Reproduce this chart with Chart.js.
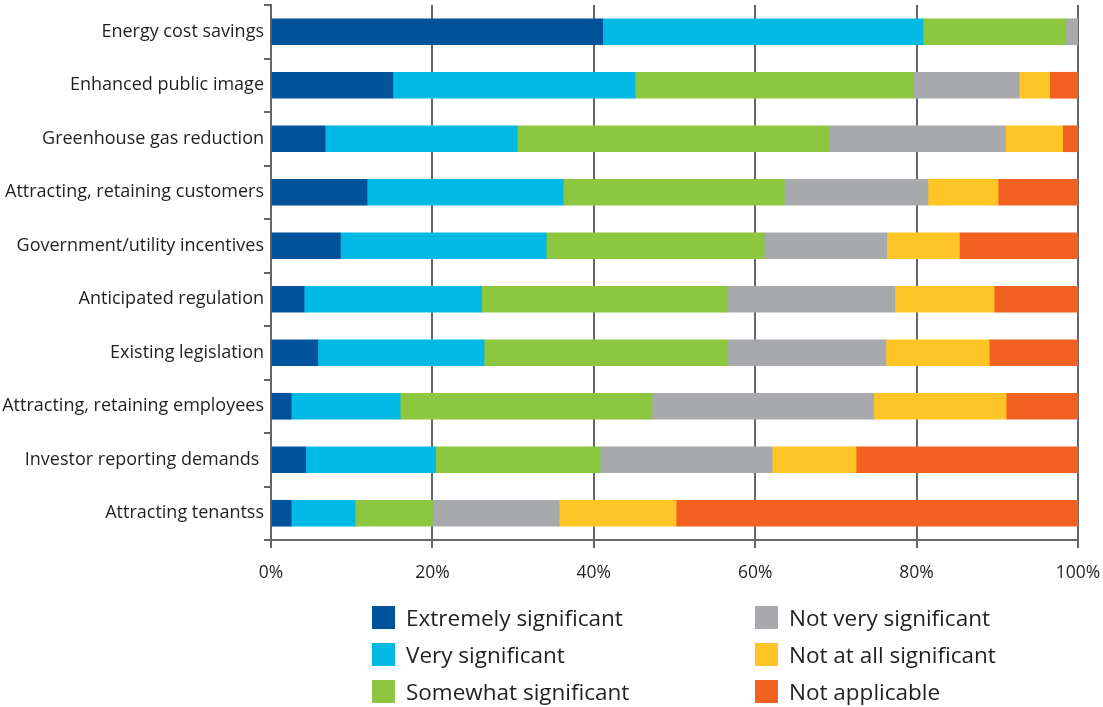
<!DOCTYPE html>
<html>
<head>
<meta charset="utf-8">
<script src="https://cdn.jsdelivr.net/npm/chart.js@4/dist/chart.umd.min.js"></script>
<style>
  body { margin: 0; background: #fff; font-family: "Open Sans", sans-serif; overflow: hidden; }
  #wrap { position: relative; width: 1103px; height: 707px; }
  #chartBox { position: absolute; left: 0; top: 0; width: 1103px; height: 600px; }
  .legend { position: absolute; color: #231f20; font-size: 22.5px; }
  .legend div { display: flex; align-items: center; height: 37px; }
  .legend span.sw { display: inline-block; width: 23px; height: 23px; margin-right: 11px; }
</style>
</head>
<body>
<div id="wrap">
  <div id="chartBox"><canvas id="myChart"></canvas></div>
  <div class="legend" id="legCol1" style="left:372px; top:599px;"></div>
  <div class="legend" id="legCol2" style="left:755px; top:599px;"></div>
</div>
<script>
// categorias (de arriba hacia abajo)
const categories = [
  "Energy cost savings",
  "Enhanced public image",
  "Greenhouse gas reduction",
  "Attracting, retaining customers",
  "Government/utility incentives",
  "Anticipated regulation",
  "Existing legislation",
  "Attracting, retaining employees",
  "Investor reporting demands ",
  "Attracting tenantss"
];

// series en porcentaje
const extremely = [41.1, 15.1, 6.7, 11.9, 8.6, 4.1, 5.8, 2.5, 4.3, 2.5];
const very      = [39.7, 30.0, 23.8, 24.3, 25.5, 22.0, 20.6, 13.5, 16.1, 7.9];
const somewhat  = [17.7, 34.5, 38.6, 27.4, 27.0, 30.5, 30.2, 31.2, 20.4, 9.6];
const notVery   = [1.5, 13.1, 21.9, 17.8, 15.2, 20.7, 19.6, 27.5, 21.3, 15.7];
const notAtAll  = [0, 3.8, 7.1, 8.7, 9.0, 12.3, 12.8, 16.4, 10.4, 14.5];
const notApplic = [0, 3.5, 1.9, 9.9, 14.7, 10.4, 11.0, 8.9, 27.5, 49.8];

const seriesNames = [
  "Extremely significant",
  "Very significant",
  "Somewhat significant",
  "Not very significant",
  "Not at all significant",
  "Not applicable"
];
const seriesColors = ["#00539b", "#00b9e4", "#8dc63f", "#a7a9ac", "#ffc425", "#f26122"];
const xTicks = ["0%", "20%", "40%", "60%", "80%", "100%"];

const seriesData = [extremely, very, somewhat, notVery, notAtAll, notApplic];

const axisColor = "#666666";
const textColor = "#231f20";

const ctx = document.getElementById("myChart").getContext("2d");
new Chart(ctx, {
  type: "bar",
  data: {
    labels: categories,
    datasets: seriesData.map((d, i) => ({
      label: seriesNames[i],
      data: d,
      backgroundColor: seriesColors[i],
      borderWidth: 0,
      barThickness: 26
    }))
  },
  options: {
    indexAxis: "y",
    responsive: true,
    maintainAspectRatio: false,
    animation: false,
    layout: { padding: { top: 5, right: 25, left: 0, bottom: 0 } },
    plugins: { legend: { display: false }, tooltip: { enabled: false } },
    scales: {
      x: {
        stacked: true,
        min: 0,
        max: 100,
        afterFit: (s) => { s.height = 60; s.paddingLeft = 0; s.paddingRight = 0; },
        ticks: {
          stepSize: 20,
          color: textColor,
          padding: 15,
          font: { family: "Open Sans", size: 17.5 },
          callback: (v, i) => xTicks[i]
        },
        grid: { color: axisColor, lineWidth: 2, tickLength: 8 },
        border: { color: axisColor, width: 2 }
      },
      y: {
        stacked: true,
        afterFit: (s) => { s.width = 271; s.paddingTop = 0; s.paddingBottom = 0; },
        ticks: {
          color: textColor,
          padding: 0,
          font: { family: "Open Sans", size: 18 }
        },
        grid: { drawOnChartArea: false, color: axisColor, lineWidth: 2, tickLength: 7 },
        border: { color: axisColor, width: 2 }
      }
    }
  }
});

// leyenda en HTML, dos columnas
seriesNames.forEach((name, i) => {
  const col = document.getElementById(i < 3 ? "legCol1" : "legCol2");
  const row = document.createElement("div");
  row.innerHTML = `<span class="sw" style="background:${seriesColors[i]}"></span>${name}`;
  col.appendChild(row);
});
</script>
</body>
</html>
